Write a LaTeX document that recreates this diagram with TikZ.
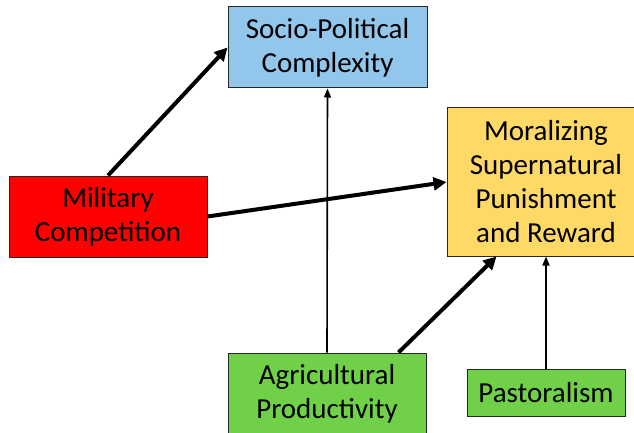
\documentclass[tikz,border=0pt]{standalone}
\usepackage{fontspec}
\setmainfont{Carlito}
\usetikzlibrary{arrows.meta}

\definecolor{socblue}{RGB}{146,198,235}
\definecolor{moryellow}{RGB}{255,217,102}
\definecolor{milred}{RGB}{255,0,0}
\definecolor{agrgreen}{RGB}{112,208,72}

\begin{document}
\begin{tikzpicture}[x=1pt, y=-1pt,
    box/.style={draw=black!85, line width=1pt, align=center, inner sep=0pt,
                font=\fontsize{29}{34}\selectfont},
    strong/.style={line width=4pt, -{Triangle[length=13pt,width=13pt]}},
    weak/.style={line width=1.6pt, -{Triangle[length=9pt,width=7pt]}}]
    \useasboundingbox (0,0) rectangle (634,433);

    % Cajas
    \node[box, fill=socblue, minimum width=199pt, minimum height=81pt]
        (soc) at (327.5,47.5) {Socio-Political\\Complexity};
    \node[box, fill=moryellow, minimum width=198pt, minimum height=148pt]
        (mor) at (546,182) {Moralizing\\Supernatural\\Punishment\\and Reward};
    \node[box, fill=milred, minimum width=198pt, minimum height=81pt]
        (mil) at (108,216.5) {Military\\Competition};
    \node[box, fill=agrgreen, minimum width=198pt, minimum height=81pt]
        (agr) at (327,393.5) {Agricultural\\Productivity};
    \node[box, fill=agrgreen, minimum width=158pt, minimum height=47pt]
        (pas) at (546,392.5) {Pastoralism};

    % Flechas
    \coordinate (agrout) at ([xshift=-28pt]agr.north east);
    \coordinate (morin) at ([xshift=50pt]mor.south west);

    \draw[strong] (mil.north) -- (soc.west);
    \draw[strong] (mil.east) -- (mor.west);
    \draw[weak] (agr.north) -- (soc.south);
    \draw[strong] (agrout) -- (morin);
    \draw[weak] (pas.north) -- (pas.north |- mor.south);

\end{tikzpicture}
\end{document}
